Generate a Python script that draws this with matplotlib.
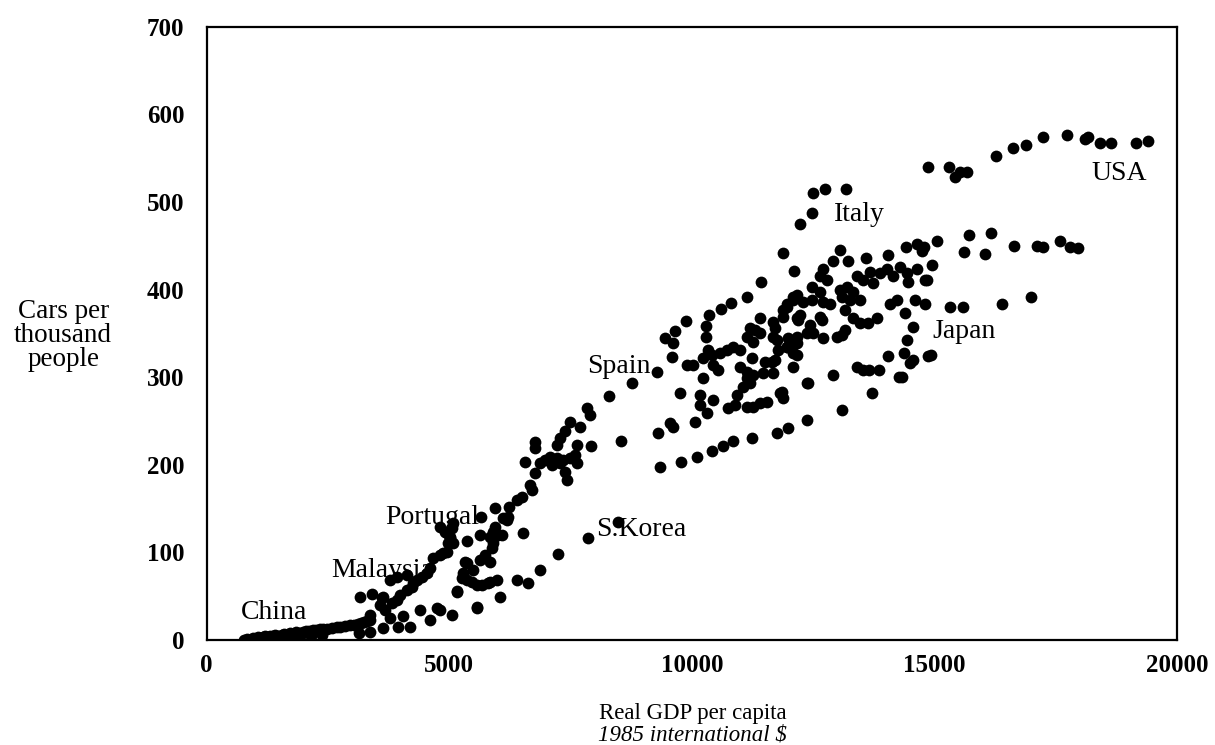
import matplotlib
matplotlib.use("Agg")
import matplotlib.pyplot as plt

plt.rcParams['font.family'] = ['Liberation Serif', 'DejaVu Serif']

# China and other poor countries near the origin
low_gdp = [780, 830, 900, 950, 1000, 1060, 1100, 1160, 1200, 1250, 1310, 1360, 1420, 1480,
           1550, 1600, 1660, 1720, 1790, 1850, 1910, 1980, 2040, 2110, 2190, 2250, 2330, 2400,
           2490, 2580, 2680, 2750, 2860, 2950, 3040, 3110, 3180, 3250, 3300, 3360,
           1050, 1280, 1480, 1690, 1930, 2150, 2380, 3150, 3360]
low_cars = [0, 1, 0, 2, 1, 3, 2, 3, 4, 3, 5, 4, 6, 5,
            6, 7, 6, 8, 7, 9, 8, 9, 10, 10, 11, 11, 12, 12,
            13, 14, 15, 15, 16, 17, 17, 18, 19, 21, 22, 23,
            1, 2, 2, 3, 4, 5, 6, 8, 9]

# Malaysia and other countries below Portugal
mid_low_gdp = [3155, 3402, 3629, 3567, 3670, 3815, 3918, 3980, 4124, 4227, 4330, 4433, 4536,
               4598, 3773, 3918, 4124, 4248, 3608, 3361, 3773, 3938, 4042, 4186, 3629, 4392,
               4743, 5052, 4598, 4804, 5155, 5567, 6042, 5258, 5361, 5464, 5567, 5835, 5980,
               6392, 6619, 6866, 7238, 7856, 8475, 5567, 5155, 5279, 5361, 5485, 5670, 5794]
mid_low_cars = [49, 53, 49, 40, 34, 42, 46, 51, 57, 61, 69, 72, 77,
                82, 69, 72, 74, 65, 48, 29, 25, 15, 27, 15, 14, 34,
                37, 29, 23, 34, 56, 38, 49, 71, 69, 66, 63, 66, 69,
                69, 65, 80, 98, 116, 135, 37, 55, 77, 88, 80, 63, 65]

# Portugal, Greece, Spain trajectories
mid_gdp = [4660, 4804, 4949, 4970, 5011, 4949, 5052, 5073, 4804, 4908, 5011, 5073, 4866,
           5320, 5629, 5732, 5835, 5877, 5897, 5897, 5939, 6083, 6000, 5835, 5897, 6516,
           5361, 5629, 5939, 6227, 6207, 6186, 6104, 6392, 6495, 6660, 6701, 6763, 7382,
           7423, 6557, 6970, 7073, 7217, 7341, 7485, 7588, 6866, 7114, 7279, 7629, 6763,
           6763, 7382, 7279, 7217, 7629, 7918, 8537, 7485, 7691, 7835, 7898, 8289, 8763,
           9279, 5650]
mid_cars = [94, 97, 100, 111, 116, 122, 128, 134, 129, 123, 118, 111, 99,
            89, 91, 97, 89, 105, 116, 123, 129, 120, 120, 118, 111, 122,
            113, 120, 151, 152, 140, 137, 139, 160, 163, 177, 171, 191, 192,
            183, 203, 206, 209, 208, 206, 208, 211, 202, 200, 202, 202, 226,
            219, 238, 231, 223, 223, 222, 227, 249, 243, 265, 257, 279, 293,
            306, 140]

# Main cluster of richer countries
high_gdp = [9341, 9774, 10104, 10413, 10640, 10846, 11237, 11753, 11980, 12372, 13094, 9300,
            9547, 9609, 10063, 10166, 10166, 10310, 10434, 9753, 10228, 10743, 10887, 11134,
            11258, 11403, 11547, 10928, 11815, 11877, 11134, 11196, 11052, 11134, 11258, 11465,
            11671, 10990, 11237, 11506, 11650, 11134, 11258, 11196, 11300, 11403, 11671, 11712,
            11671, 11753, 11403, 11960, 12083, 12166, 11877, 11774, 11960, 12083, 12083, 12021,
            12166, 11712, 9898, 10021, 10330, 10228, 10413, 10578, 10722, 10846, 10990, 10434,
            10537, 10290, 10290, 9588, 9877, 9650, 9444, 9609, 10351, 10599, 10805, 11134,
            11423, 11877, 12104, 12372, 12393, 11856]
high_cars = [198, 203, 209, 216, 222, 227, 231, 236, 242, 251, 263, 236,
             248, 243, 249, 268, 280, 259, 274, 282, 299, 265, 268, 266,
             266, 271, 272, 280, 282, 276, 299, 293, 289, 306, 303, 305,
             305, 312, 322, 317, 317, 346, 340, 356, 354, 351, 363, 356,
             346, 343, 368, 383, 391, 368, 377, 331, 335, 328, 312, 343,
             339, 320, 314, 314, 331, 322, 325, 328, 331, 335, 331, 314,
             308, 359, 346, 323, 364, 353, 345, 339, 371, 378, 385, 392,
             409, 442, 421, 293, 293, 283]

# Upper right: Italy, Japan, Western Europe
top_gdp = [12228, 12475, 12496, 12743, 13176, 13052, 12908, 12702, 12640, 12784, 13217, 13589,
           14042, 14413, 14640, 14785, 13671, 13877, 14021, 14145, 13733, 13527, 13403, 14290,
           14434, 14640, 14846, 14455, 12475, 13052, 13197, 13320, 13465, 13094, 13258, 12166,
           12083, 12290, 12475, 11960, 11877, 12640, 12702, 12846, 13155, 13320, 13465, 13630,
           13815, 14083, 14228, 12640, 12681, 12434, 12228, 12186, 13155, 12990, 13094, 11980,
           12166, 12372, 12496, 12702, 12083, 11960, 12166, 14393, 14558, 14434, 14372, 14496,
           14558, 14042, 14867, 13403, 13527, 13650, 13856, 12908, 14269, 13712, 14600, 14805,
           15320, 15590, 16393, 16990, 14805, 14950, 14743, 15053, 15609, 15712, 16166, 16042,
           16640, 17115, 17240, 17590, 17795, 17960, 14929, 14331]
top_cars = [475, 488, 510, 515, 515, 445, 433, 423, 415, 411, 433, 436,
            440, 449, 452, 449, 420, 419, 423, 415, 408, 411, 415, 426,
            419, 423, 411, 409, 403, 400, 403, 397, 388, 392, 388, 394,
            388, 386, 388, 380, 369, 397, 386, 383, 377, 368, 362, 362,
            368, 383, 388, 369, 365, 360, 371, 365, 354, 346, 348, 345,
            346, 351, 351, 345, 337, 335, 325, 373, 357, 343, 328, 316,
            320, 324, 324, 312, 308, 308, 308, 303, 300, 282, 388, 383,
            380, 380, 384, 391, 411, 428, 444, 455, 443, 462, 465, 441,
            450, 450, 449, 456, 449, 447, 325, 300]

# USA
usa_gdp = [14867, 15300, 15424, 15527, 15671, 16270, 16620, 16888, 17240, 17733, 18100, 18166,
           18414, 18640, 19155, 19400]
usa_cars = [540, 540, 529, 534, 534, 553, 562, 565, 574, 577, 572, 574, 567, 567, 567, 570]

labels = ['USA', 'Italy', 'Japan', 'Spain', 'Portugal', 'S.Korea', 'Malaysia', 'China']
label_x = [18800, 13450, 15600, 8500, 4650, 8950, 3620, 1400]
label_y = [532, 486, 352, 312, 140, 126, 79, 31]

fig = plt.figure(figsize=(12.15, 7.45), dpi=100)
ax = fig.add_axes([0.170, 0.141, 0.799, 0.823])

groups = [(low_gdp, low_cars), (mid_low_gdp, mid_low_cars), (mid_gdp, mid_cars),
          (high_gdp, high_cars), (top_gdp, top_cars), (usa_gdp, usa_cars)]
for gx, gy in groups:
    ax.scatter(gx, gy, s=72, color='black', linewidths=0, zorder=3)

for lab, lx, ly in zip(labels, label_x, label_y):
    ax.text(lx, ly, lab, fontsize=20, ha='center', va='center', zorder=4)

ax.set_xlim(0, 20000)
ax.set_ylim(0, 700)
ax.set_xticks([0, 5000, 10000, 15000, 20000])
ax.set_yticks(range(0, 701, 100))
ax.tick_params(length=0, labelsize=18)
ax.tick_params(axis='y', pad=16)
ax.tick_params(axis='x', pad=10)
for lbl in ax.get_xticklabels() + ax.get_yticklabels():
    lbl.set_fontweight('bold')
for sp in ax.spines.values():
    sp.set_linewidth(1.6)

fig.text(0.052, 0.550, 'Cars per\nthousand\npeople', ha='center', va='center',
         fontsize=19.5, linespacing=0.95)
fig.text(0.570, 0.042, 'Real GDP per capita', ha='center', va='center', fontsize=16.5)
fig.text(0.570, 0.014, '1985 international $', ha='center', va='center', fontsize=16.5,
         style='italic')

fig.savefig('out.png', dpi=100)
